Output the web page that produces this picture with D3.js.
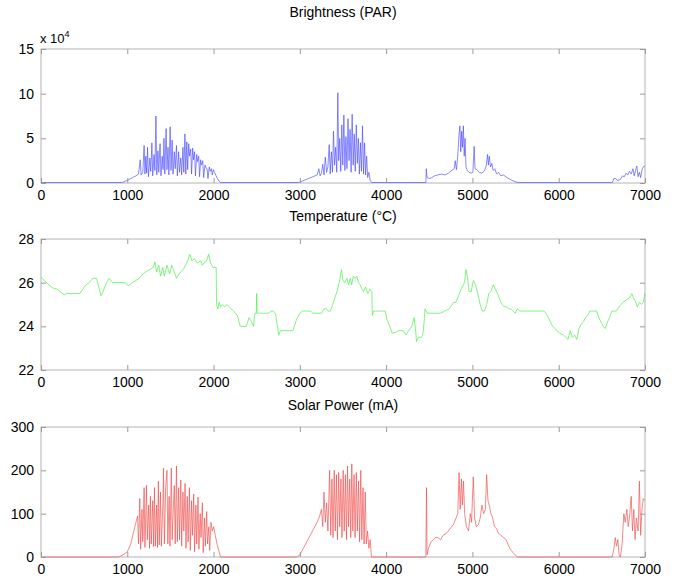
<!DOCTYPE html>
<html>
<head>
<meta charset="utf-8">
<script src="https://cdn.jsdelivr.net/npm/d3@7"></script>
<style>
  body { margin: 0; background: #fff; }
  text { font-family: "Liberation Sans", Arial, sans-serif; fill: #000; }
</style>
</head>
<body>
<div id="chart"></div>
<script>
// sample index / value pairs
const brightT = [0,940,980,1020,1060,1100,1130,1150,1160,1180,1195,1205,1215,1225,1235,1245,1262,1272,1285,1295,1310,1320,1332,1342,1355,1365,1380,1390,1405,1415,1425,1435,1450,1460,1472,1482,1497,1507,1520,1530,1545,1555,1570,1580,1595,1605,1620,1630,1645,1655,1668,1678,1690,1700,1712,1722,1735,1745,1758,1768,1780,1790,1805,1815,1828,1838,1850,1860,1875,1885,1900,1912,1925,1935,1950,1962,1975,1985,1998,2010,2030,2050,2080,
  2980,3000,3050,3100,3150,3200,3220,3235,3250,3265,3280,3295,3310,3325,3340,3352,3365,3378,3390,3402,3415,3428,3440,3450,3462,3474,3486,3498,3510,3522,3534,3546,3558,3570,3582,3594,3606,3618,3630,3642,3654,3666,3678,3690,3702,3714,3726,3738,3750,3762,3774,3786,3800,3815,3830,
  4460,4465,4475,4500,4530,4560,4600,4640,4680,4720,4760,4790,4800,4815,4830,4845,4855,4865,4875,4885,4895,4905,4915,4925,4940,4960,4985,5005,5020,5030,5050,5080,5110,5140,5160,5175,5185,5195,5210,5225,5240,5260,5280,5300,5330,5360,5400,5440,5480,5530,
  6620,6640,6660,6680,6710,6740,6760,6780,6800,6820,6840,6860,6875,6890,6905,6920,6935,6950,6965,6980,7000];
const brightV = [0.05,0.05,0.2,0.4,0.6,0.8,1.0,2.6,0.9,1.2,4.2,1.0,3.0,1.1,4.0,0.7,2.8,1.3,4.5,0.8,3.2,1.4,7.5,0.9,3.6,1.2,4.4,0.8,3.0,1.5,5.0,1.0,6.1,1.5,4.0,0.9,6.3,1.4,4.8,1.0,3.5,1.6,4.2,0.8,3.5,1.2,2.8,0.9,4.0,1.2,5.5,1.0,4.6,1.5,4.4,3.0,3.8,1.0,3.9,2.6,3.5,0.8,3.2,2.4,3.0,0.7,2.6,2.0,2.5,0.6,2.0,1.7,1.6,0.5,1.8,1.3,1.6,0.9,1.5,1.2,0.8,0.4,0.05,
  0.05,0.1,0.3,0.5,0.7,0.9,1.6,0.8,1.1,2.1,0.9,2.9,1.2,1.8,4.3,1.0,3.5,1.2,5.8,2.0,4.0,1.2,10.1,2.5,5.0,1.3,6.5,2.0,7.6,1.4,5.2,1.6,7.2,2.5,6.0,1.2,7.7,2.0,5.5,1.3,6.5,2.2,5.0,1.0,4.5,1.3,6.4,1.0,4.5,0.9,3.0,0.6,1.2,0.3,0.05,
  0.05,1.6,0.6,0.5,0.6,0.8,0.9,1.0,0.9,1.1,1.4,1.6,2.5,1.5,3.0,5.5,6.4,3.5,5.8,4.0,6.4,3.0,5.0,1.8,1.4,1.2,1.1,1.2,4.1,1.6,1.5,1.2,1.1,1.4,1.9,3.2,2.0,3.0,1.8,2.2,1.4,1.6,1.0,1.2,0.8,0.9,0.6,0.4,0.2,0.05,
  0.05,0.5,0.5,0.3,0.35,0.8,0.7,1.1,0.9,1.3,1.0,1.6,0.8,1.4,1.9,0.7,1.2,0.6,1.5,1.8,1.9];

const tempT = [0,40,90,140,190,230,270,300,450,520,560,600,645,670,695,720,760,790,830,980,1010,1060,1100,1140,1180,1215,1260,1300,1320,1340,1365,1385,1410,1430,1460,1490,1515,1545,1570,1600,1620,1650,1675,1700,1725,1750,1775,1810,1850,1870,1890,1920,1942,1965,1993,2030,2035,2050,2065,2080,2100,2130,2156,2180,2230,2275,2310,2380,2411,2440,2462,2478,2495,2500,2505,2640,2666,2692,2717,2745,2755,2775,2920,2960,3000,3030,3125,3150,3250,3280,3303,3330,3354,3380,3431,3456,3482,3500,3520,3545,3565,3585,3600,3620,3640,3660,3680,3700,3720,3737,3760,3788,3813,3835,3840,3855,3990,4010,4043,4068,4100,4145,4196,4230,4260,4298,4323,4340,4352,4375,4410,4425,4440,4451,4476,4629,4680,4731,4782,4807,4830,4858,4880,4909,4925,4945,4960,4986,5011,5037,5062,5090,5113,5139,5165,5190,5215,5241,5266,5292,5320,5343,5370,5394,5420,5445,5470,5496,5521,5547,5827,5853,5880,5904,5930,5955,6006,6056,6080,6107,6133,6158,6185,6209,6235,6260,6286,6310,6337,6360,6388,6439,6465,6490,6515,6541,6566,6590,6617,6668,6700,6744,6780,6821,6847,6865,6882,6910,6935,6960,6980,7000];
const tempV = [26.25,26.1,25.9,25.75,25.7,25.55,25.45,25.5,25.5,25.9,26.0,26.2,26.2,25.8,25.4,25.6,26.0,26.2,26.0,26.0,25.85,26.0,26.1,26.2,26.4,26.5,26.6,26.7,26.95,26.5,26.8,26.3,26.7,26.3,26.8,26.4,26.8,26.5,26.2,26.4,26.5,26.6,26.8,27.0,27.3,27.0,27.1,26.9,27.0,26.8,26.9,27.0,27.3,26.9,26.7,26.7,25.0,24.8,25.1,24.9,25.0,24.9,25.0,24.9,24.7,24.5,24.0,24.0,24.4,24.2,24.0,24.6,24.6,25.5,24.6,24.6,24.7,24.7,24.6,23.9,23.6,23.8,23.8,24.3,24.6,24.7,24.7,24.6,24.6,24.8,24.8,24.7,24.7,25.0,25.6,26.0,26.6,26.1,26.0,26.2,25.9,26.2,25.9,26.3,26.2,26.3,26.0,25.9,25.7,25.6,25.8,25.5,25.7,25.6,24.5,24.7,24.7,24.3,24.0,23.7,23.7,23.8,23.8,23.6,23.8,24.0,24.4,23.9,23.3,23.5,23.5,23.6,24.2,24.8,24.6,24.6,24.7,24.8,25.1,25.1,25.3,25.6,25.8,26.0,26.6,26.2,25.6,25.6,26.1,25.9,25.5,25.0,24.7,24.7,25.0,25.5,25.6,25.9,25.7,25.5,25.2,25.0,24.9,24.9,24.8,24.8,24.7,24.6,24.8,24.7,24.7,24.6,24.4,24.2,24.0,23.9,23.7,23.6,23.5,23.4,23.8,23.5,23.6,23.4,23.9,24.1,24.2,24.4,24.5,24.7,24.7,24.7,24.4,24.2,24.0,23.9,24.2,24.4,24.7,24.7,24.9,25.1,25.2,25.3,25.5,25.3,25.2,24.9,25.1,25.0,25.1,25.5];

const solarT = [0,900,950,1000,1040,1070,1100,1120,1130,1145,1155,1170,1180,1195,1205,1222,1232,1248,1258,1268,1278,1295,1305,1315,1325,1340,1350,1360,1370,1385,1395,1412,1420,1430,1445,1460,1470,1485,1495,1510,1520,1535,1545,1555,1570,1580,1595,1605,1620,1630,1645,1655,1670,1680,1695,1705,1720,1730,1745,1755,1770,1780,1795,1805,1820,1830,1845,1855,1870,1880,1895,1905,1920,1930,1945,1955,1970,1985,2000,2020,2040,2060,2080,
  2960,3000,3040,3080,3120,3160,3200,3230,3250,3265,3280,3295,3310,3325,3345,3358,3372,3384,3398,3410,3424,3436,3450,3462,3476,3488,3502,3514,3528,3540,3552,3564,3578,3590,3602,3614,3628,3640,3654,3666,3680,3692,3706,3718,3732,3744,3758,3770,3785,3800,3815,3830,
  4460,4468,4474,4490,4520,4550,4570,4600,4630,4660,4700,4740,4780,4810,4830,4845,4858,4872,4884,4896,4910,4930,4955,4975,4990,5010,5025,5045,5070,5090,5110,5130,5150,5165,5180,5200,5215,5235,5255,5280,5300,5330,5360,5390,5420,5450,5480,5520,
  6620,6640,6655,6670,6685,6700,6715,6735,6755,6770,6790,6805,6820,6840,6855,6870,6885,6900,6920,6935,6950,6965,6980,7000];
const solarV = [0,0,5,12,30,55,80,95,30,135,18,110,35,160,22,165,40,120,20,140,30,130,24,160,25,120,22,175,28,150,25,120,205,30,160,200,30,140,25,205,40,120,165,30,210,35,160,40,178,25,150,60,170,20,140,35,160,15,130,50,145,12,120,30,138,18,100,45,125,10,90,25,105,30,70,15,80,60,70,50,30,15,0,
  0,5,20,35,50,65,80,95,110,70,150,80,125,60,200,50,180,45,200,60,190,40,195,70,180,45,200,60,190,40,210,70,180,45,215,60,190,45,195,60,175,35,200,40,160,30,150,30,60,20,40,0,
  0,160,5,20,35,40,45,45,40,50,55,65,75,90,100,195,110,180,120,175,100,70,60,100,80,185,90,70,75,90,120,100,110,190,130,115,100,90,70,65,55,50,45,40,25,15,8,0,
  0,20,45,25,40,5,0,30,100,80,110,70,90,140,60,110,40,90,60,175,50,110,135,130];

const xTicks = [0,1000,2000,3000,4000,5000,6000,7000];
const brightTicks = [0,50000,100000,150000];
const tempTicks = [22,24,26,28];
const solarTicks = [0,100,200,300];

const width = 690, height = 580;
const left = 41, right = 645;

const svg = d3.select("#chart").append("svg")
  .attr("width", width)
  .attr("height", height);

const x = d3.scaleLinear().domain([0, 7000]).range([left, right]);

function panel(opts) {
  const y = d3.scaleLinear().domain(opts.domain).range([opts.bottom, opts.top]);
  const g = svg.append("g");

  // frame
  g.append("rect")
    .attr("x", left).attr("y", opts.top)
    .attr("width", right - left).attr("height", opts.bottom - opts.top)
    .attr("fill", "none").attr("stroke", "#b4b4b4").attr("stroke-width", 1);

  const pts = opts.t.map((t, i) => [t, opts.v[i]]);
  const line = d3.line().x(d => x(d[0])).y(d => y(d[1]));
  g.append("path")
    .datum(pts)
    .attr("d", line)
    .attr("fill", "none")
    .attr("stroke", opts.color)
    .attr("stroke-width", 0.65)
    .attr("stroke-linejoin", "round");

  // axes, ticks pointing inward like matlab
  const styleAxis = sel => {
    sel.select(".domain").remove();
    sel.selectAll(".tick line").attr("stroke", "#9a9a9a");
    sel.selectAll(".tick text").style("font-size", "14px")
      .style("font-family", "'Liberation Sans', Arial, sans-serif").attr("fill", "#000");
  };

  g.append("g").attr("transform", `translate(0,${opts.bottom})`)
    .call(d3.axisBottom(x).tickValues(xTicks).tickSize(-5).tickPadding(7).tickFormat(d3.format("d")))
    .call(styleAxis);
  g.append("g").attr("transform", `translate(0,${opts.top})`)
    .call(d3.axisTop(x).tickValues(xTicks).tickSize(-5).tickFormat(""))
    .call(styleAxis);
  g.append("g").attr("transform", `translate(${left},0)`)
    .call(d3.axisLeft(y).tickValues(opts.ticks).tickSize(-5).tickPadding(7).tickFormat(opts.fmt))
    .call(styleAxis);
  g.append("g").attr("transform", `translate(${right},0)`)
    .call(d3.axisRight(y).tickValues(opts.ticks).tickSize(-5).tickFormat(""))
    .call(styleAxis);

  svg.append("text")
    .attr("x", (left + right) / 2)
    .attr("y", opts.titleY)
    .attr("text-anchor", "middle")
    .style("font-size", "14px")
    .text(opts.title);
  return g;
}

panel({ t: brightT, v: brightV.map(d => d * 1e4), domain: [0, 150000], ticks: brightTicks,
  fmt: d => d / 1e4, top: 49, bottom: 183, color: "#4848ff",
  title: "Brightness (PAR)", titleY: 17 });

// exponent label
const ex = svg.append("text").attr("x", 40).attr("y", 43).style("font-size", "13px");
ex.append("tspan").text("x 10");
ex.append("tspan").attr("dy", -6).style("font-size", "9px").text("4");

panel({ t: tempT, v: tempV, domain: [22, 28], ticks: tempTicks,
  fmt: d3.format("d"), top: 239, bottom: 370, color: "#3cee3c",
  title: "Temperature (\u00B0C)", titleY: 221 });

panel({ t: solarT, v: solarV, domain: [0, 300], ticks: solarTicks,
  fmt: d3.format("d"), top: 427, bottom: 557, color: "#f04848",
  title: "Solar Power (mA)", titleY: 410 });
</script>
</body>
</html>
